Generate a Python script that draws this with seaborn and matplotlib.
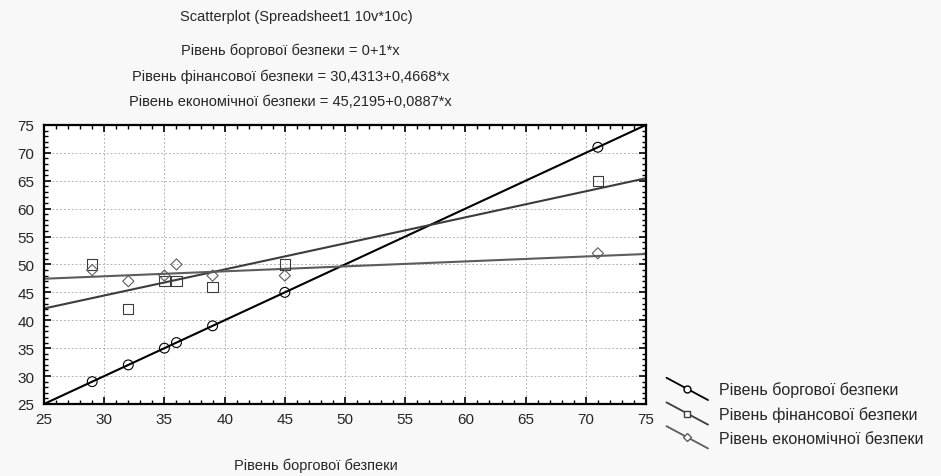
import matplotlib
matplotlib.use('Agg')
import matplotlib.pyplot as plt
import numpy as np
import pandas as pd
import seaborn as sns
from matplotlib.lines import Line2D
from matplotlib.legend_handler import HandlerBase
from matplotlib.ticker import MultipleLocator

# data
borg = [29, 32, 35, 36, 39, 45, 71]
finans = [50, 42, 47, 47, 46, 50, 65]
ekonom = [49, 47, 48, 50, 48, 48, 52]

series_names = [
    'Рівень боргової безпеки',
    'Рівень фінансової безпеки',
    'Рівень економічної безпеки',
]
series_markers = ['o', 's', 'D']
series_colors = ['#000000', '#3c3c3c', '#5c5c5c']
marker_sizes = [50, 55, 32]

title = 'Scatterplot (Spreadsheet1 10v*10c)'
equations = [
    'Рівень боргової безпеки = 0+1*x',
    'Рівень фінансової безпеки = 30,4313+0,4668*x',
    'Рівень економічної безпеки = 45,2195+0,0887*x',
]
xlabel = 'Рівень боргової безпеки'

df = pd.DataFrame({'x': borg, series_names[0]: borg,
                   series_names[1]: finans, series_names[2]: ekonom})


class DiagonalHandler(HandlerBase):
    """legend key drawn as a falling diagonal line with marker"""

    def create_artists(self, legend, orig_handle, xdescent, ydescent,
                       width, height, fontsize, trans):
        x0, x1 = -xdescent, width - xdescent
        y0, y1 = height - ydescent + 4, -ydescent - 4
        line = Line2D([x0, x1], [y0, y1], color=orig_handle.get_color(),
                      lw=orig_handle.get_linewidth())
        mark = Line2D([(x0 + x1) / 2], [(y0 + y1) / 2],
                      marker=orig_handle.get_marker(),
                      ms=orig_handle.get_markersize(), mfc='white',
                      mec=orig_handle.get_markeredgecolor(), ls='none')
        line.set_transform(trans)
        mark.set_transform(trans)
        return [line, mark]


sns.set_style('white')
plt.rcParams['font.family'] = ['Liberation Sans', 'DejaVu Sans']
plt.rcParams['font.size'] = 10

fig = plt.figure(figsize=(9.41, 4.77), dpi=100, facecolor='#f8f8f8')
ax = fig.add_axes([0.0468, 0.151, 0.6397, 0.585])
ax.set_facecolor('white')
ax.set_xlim(25, 75)
ax.set_ylim(25, 75)

handles = []
for name, mk, col, ms in zip(series_names, series_markers, series_colors, marker_sizes):
    sns.regplot(
        data=df, x='x', y=name, ax=ax, ci=None, truncate=False, marker=mk,
        scatter_kws={'facecolors': 'none', 'edgecolors': col, 's': ms,
                     'alpha': 1, 'linewidths': 0.8, 'zorder': 3},
        line_kws={'color': col, 'lw': 1.5, 'zorder': 2},
        color=col,
    )
    handles.append(Line2D([], [], color=col, lw=1.3, marker=mk,
                          ms=5 if mk != 'D' else 4, mec=col, mfc='white'))

ax.set_xlim(25, 75)
ax.set_ylim(25, 75)
ax.xaxis.set_major_locator(MultipleLocator(5))
ax.yaxis.set_major_locator(MultipleLocator(5))
ax.xaxis.set_minor_locator(MultipleLocator(1))
ax.yaxis.set_minor_locator(MultipleLocator(1))
ax.tick_params(which='both', direction='in', top=True, right=True,
               bottom=True, left=True, color='black')
ax.tick_params(which='major', length=5, width=1.2, labelsize=11)
ax.tick_params(which='minor', length=3, width=1)
ax.tick_params(axis='y', pad=7)
ax.tick_params(axis='x', pad=6)
ax.grid(True, which='major', color='#b4b4b4', linestyle=(0, (2, 2)), lw=0.7)
for sp in ax.spines.values():
    sp.set_visible(True)
    sp.set_color('black')
    sp.set_linewidth(1.6)
ax.set_xlabel('')
ax.set_ylabel('')

fig.text(0.315, 0.965, title, ha='center', va='center', fontsize=10.5)
for i, eq in enumerate(equations):
    fig.text(0.309, 0.893 - i * 0.053, eq, ha='center', va='center', fontsize=10.5)
fig.text(0.336, 0.024, xlabel, ha='center', va='center', fontsize=10.5)

fig.legend(handles, series_names, loc='lower left',
           bbox_to_anchor=(0.693, 0.033), frameon=False,
           handler_map={Line2D: DiagonalHandler()}, handlelength=2.6,
           handletextpad=0.7, labelspacing=0.55, fontsize=11.5)

fig.savefig('out.png', dpi=100, facecolor=fig.get_facecolor())
